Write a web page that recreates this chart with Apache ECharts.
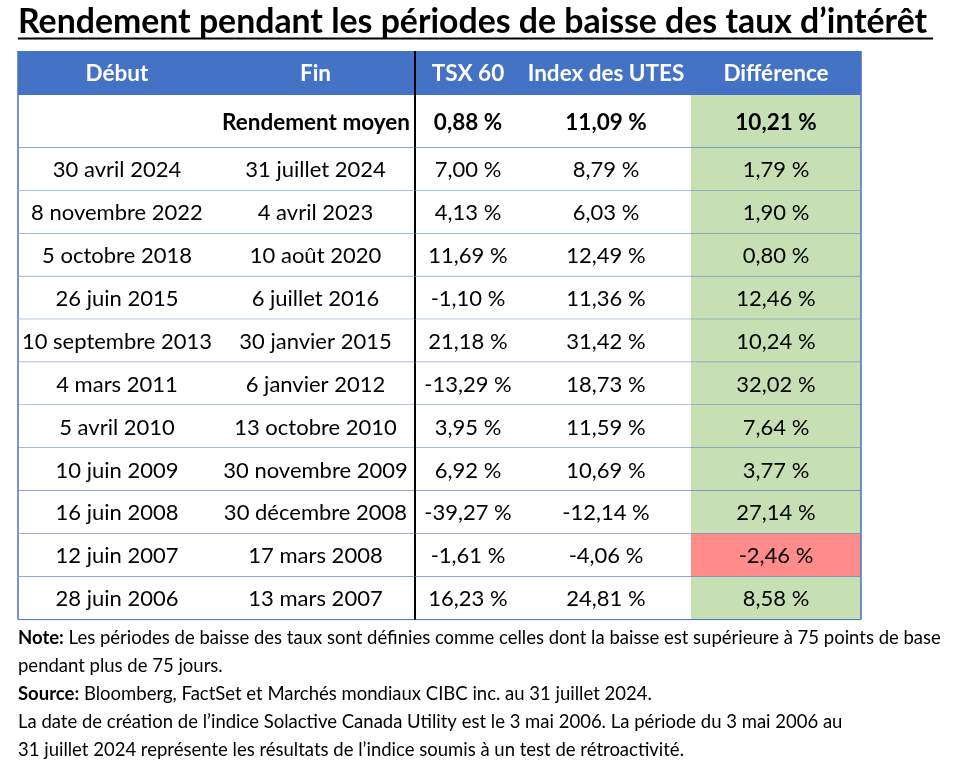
<!DOCTYPE html>
<html>
<head>
<meta charset="utf-8">
<script src="https://cdn.jsdelivr.net/npm/echarts@6/dist/echarts.min.js"></script>
<style>
  html, body { margin: 0; padding: 0; background: #fff; }
  #main { width: 973px; height: 774px; }
</style>
</head>
<body>
<div id="main"></div>
<script>
// donnees du tableau
var headers = ['Début', 'Fin', 'TSX 60', 'Index des UTES', 'Différence'];
var avgLabel = 'Rendement moyen';
var avgValues = [0.88, 11.09, 10.21];
var debut = ['30 avril 2024', '8 novembre 2022', '5 octobre 2018', '26 juin 2015', '10 septembre 2013',
    '4 mars 2011', '5 avril 2010', '10 juin 2009', '16 juin 2008', '12 juin 2007', '28 juin 2006'];
var fin = ['31 juillet 2024', '4 avril 2023', '10 août 2020', '6 juillet 2016', '30 janvier 2015',
    '6 janvier 2012', '13 octobre 2010', '30 novembre 2009', '30 décembre 2008', '17 mars 2008', '13 mars 2007'];
var tsx = [7.00, 4.13, 11.69, -1.10, 21.18, -13.29, 3.95, 6.92, -39.27, -1.61, 16.23];
var utes = [8.79, 6.03, 12.49, 11.36, 31.42, 18.73, 11.59, 10.69, -12.14, -4.06, 24.81];
var diff = [1.79, 1.90, 0.80, 12.46, 10.24, 32.02, 7.64, 3.77, 27.14, -2.46, 8.58];

var titleText = 'Rendement pendant les périodes de baisse des taux d’intérêt';
var notes = [
    '{b|Note:} Les périodes de baisse des taux sont définies comme celles dont la baisse est supérieure à 75 points de base',
    'pendant plus de 75 jours.',
    '{b|Source:} Bloomberg, FactSet et Marchés mondiaux CIBC inc. au 31 juillet 2024.',
    'La date de création de l’indice Solactive Canada Utility est le 3 mai 2006. La période du 3 mai 2006 au',
    '31 juillet 2024 représente les résultats de l’indice soumis à un test de rétroactivité.'
];

// mise en page
var FONT = 'Lato, "Open Sans", sans-serif';
var BLUE = '#4472C4';
var GREEN = '#C6E0B4';
var RED = '#FF8B8B';
var colEdges = [0, 198, 397, 503, 673, 843];
var rowEdges = [0, 44, 96.7];
for (var k = 0; k < debut.length; k++) {
    rowEdges.push(96.7 + (k + 1) * 42.9);
}

function pct(v) {
    return v.toFixed(2).replace('.', ',') + '\u00a0%';
}

// construction des cellules
var cells = [];
headers.forEach(function (h, c) {
    cells.push({c0: c, c1: c + 1, r: 0, text: h, kind: 'head'});
});
cells.push({c0: 0, c1: 2, r: 1, text: avgLabel, kind: 'avgLabel'});
avgValues.forEach(function (v, i) {
    cells.push({c0: i + 2, c1: i + 3, r: 1, text: pct(v), kind: 'avg', val: v, isDiff: i === 2});
});
for (var i = 0; i < debut.length; i++) {
    var row = [debut[i], fin[i], pct(tsx[i]), pct(utes[i]), pct(diff[i])];
    row.forEach(function (t, c) {
        cells.push({c0: c, c1: c + 1, r: i + 2, text: t, kind: 'cell', val: diff[i], isDiff: c === 4});
    });
}

var chart = echarts.init(document.getElementById('main'));

function renderCell(params, api) {
    var d = cells[params.dataIndex];
    var p0 = api.coord([colEdges[d.c0], rowEdges[d.r]]);
    var p1 = api.coord([colEdges[d.c1], rowEdges[d.r + 1]]);
    var x0 = p0[0], y0 = p0[1], x1 = p1[0], y1 = p1[1];
    var fill = '#fff';
    if (d.kind === 'head') fill = BLUE;
    else if (d.isDiff) fill = d.val < 0 ? RED : GREEN;
    var children = [{
        type: 'rect',
        shape: {x: x0, y: y0, width: x1 - x0, height: y1 - y0},
        style: {fill: fill}
    }];
    var bold = d.kind === 'head' || d.kind === 'avg' || d.kind === 'avgLabel';
    var tx = (x0 + x1) / 2, align = 'center';
    if (d.kind === 'avgLabel') {
        tx = x1 - 5;
        align = 'right';
    }
    children.push({
        type: 'text',
        style: {
            x: tx, y: (y0 + y1) / 2 + 1,
            text: d.text,
            fill: d.kind === 'head' ? '#fff' : '#000',
            fontFamily: FONT,
            fontSize: bold ? 22.5 : 22,
            fontWeight: bold ? 'bold' : 'normal',
            align: align,
            verticalAlign: 'middle'
        }
    });
    // bordures bleues
    children.push({
        type: 'line',
        shape: {x1: x0, y1: y1, x2: x1, y2: y1},
        style: {stroke: BLUE, lineWidth: 1}
    });
    if (d.c0 === 0) {
        children.push({type: 'line', shape: {x1: x0, y1: y0, x2: x0, y2: y1}, style: {stroke: BLUE, lineWidth: 1.5}});
    }
    if (d.c1 === colEdges.length - 1) {
        children.push({type: 'line', shape: {x1: x1, y1: y0, x2: x1, y2: y1}, style: {stroke: BLUE, lineWidth: 1.5}});
    }
    // trait noir avant TSX 60
    if (d.c0 === 2) {
        children.push({type: 'line', shape: {x1: x0, y1: y0, x2: x0, y2: y1}, style: {stroke: '#000', lineWidth: 2}});
    }
    return {type: 'group', children: children};
}

var option = {
    animation: false,
    backgroundColor: '#fff',
    title: [{
        text: titleText,
        left: 13,
        top: 0,
        textStyle: {fontFamily: FONT, fontSize: 33.8, fontWeight: 'bold', color: '#000'}
    }, {
        text: notes.join('\n'),
        left: 13,
        top: 619,
        textStyle: {
            fontFamily: FONT, fontSize: 18.5, fontWeight: 'normal', color: '#000', lineHeight: 28,
            rich: {
                b: {fontFamily: FONT, fontSize: 18.5, fontWeight: 'bold', color: '#000', lineHeight: 28}
            }
        }
    }],
    graphic: [{
        type: 'line',
        shape: {x1: 18, y1: 38.5, x2: 933, y2: 38.5},
        style: {stroke: '#000', lineWidth: 2.2}
    }],
    grid: {left: 18, top: 51, width: 843, height: 569},
    xAxis: {type: 'value', min: 0, max: 843, show: false},
    yAxis: {type: 'value', min: 0, max: 569, inverse: true, show: false},
    series: [{
        type: 'custom',
        renderItem: renderCell,
        clip: false,
        data: cells.map(function (d) { return [colEdges[d.c0], rowEdges[d.r]]; })
    }]
};
chart.setOption(option);
</script>
</body>
</html>
